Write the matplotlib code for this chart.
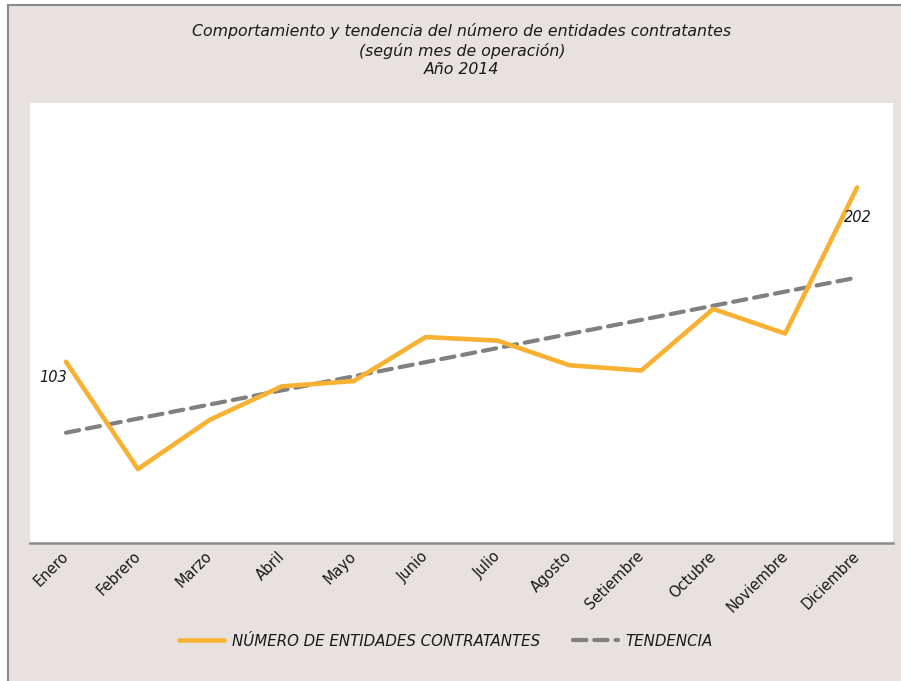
import matplotlib
matplotlib.use("Agg")
import matplotlib.pyplot as plt
import matplotlib.transforms as mtransforms
import numpy as np
from matplotlib.patches import Rectangle

months = ["Enero", "Febrero", "Marzo", "Abril", "Mayo", "Junio", "Julio",
          "Agosto", "Setiembre", "Octubre", "Noviembre", "Diciembre"]
entidades = [103, 42, 70, 89, 92, 117, 115, 101, 98, 133, 119, 202]
title_lines = ["Comportamiento y tendencia del número de entidades contratantes",
               "(según mes de operación)", "Año 2014"]
series_label = "NÚMERO DE ENTIDADES CONTRATANTES"
trend_label = "TENDENCIA"

FONT = ["DejaVu Sans"]
BG = "#E7E2DF"
ORANGE = "#F9B133"
GRAY = "#808080"
TXT = "#1a1a1a"

fig = plt.figure(figsize=(9.01, 6.81), dpi=100)
fig.patch.set_facecolor("white")
# outer chart box
fig.patches.append(Rectangle((8/901, -0.1), 1.2, 1 - 5/681 + 0.1, transform=fig.transFigure,
                             facecolor=BG, edgecolor="#8a8a8a", linewidth=1.5, zorder=-10))

ax = fig.add_axes([30/901, 1 - 543/681, (893-30)/901, (543-103)/681])
ax.set_zorder(1)
ax.set_facecolor("white")
x = np.arange(1, len(months) + 1)
y = np.array(entidades, dtype=float)
coef = np.polyfit(x, y, 1)
trend = np.polyval(coef, x)

ax.plot(x, y, color=ORANGE, lw=3.3, solid_capstyle="round", solid_joinstyle="round",
        label=series_label, zorder=3)
ax.plot(x, trend, color=GRAY, lw=3.0, dashes=(3.2, 1.9), dash_capstyle="round",
        label=trend_label, zorder=2)

ax.set_xlim(0.5, 12.5)
ax.set_ylim(0, 250)
ax.set_yticks([])
ax.set_xticks(x)
ax.set_xticklabels(months, rotation=45, ha="right", rotation_mode="anchor",
                   family=FONT, fontsize=10.5, color=TXT)
ax.tick_params(axis="x", length=0, pad=4)
offset = mtransforms.ScaledTranslation(-5/100, 0, fig.dpi_scale_trans)
for lbl in ax.get_xticklabels():
    lbl.set_transform(lbl.get_transform() + offset)
for s in ["top", "left", "right"]:
    ax.spines[s].set_visible(False)
ax.spines["bottom"].set_color("#8a8a8a")
ax.spines["bottom"].set_linewidth(1.8)

ax.annotate(str(entidades[0]), (x[0], y[0]), xytext=(-9.5, -11.5), textcoords="offset points",
            ha="center", va="center", fontsize=10.5, style="italic", family=FONT, color=TXT)
ax.annotate(str(entidades[-1]), (x[-1], y[-1]), xytext=(0.7, -21.6), textcoords="offset points",
            ha="center", va="center", fontsize=10.5, style="italic", family=FONT, color=TXT)

for i, (t, yy) in enumerate(zip(title_lines, [31, 51, 70])):
    fig.text(462/901, 1 - yy/681, t, ha="center", va="center", fontsize=11.3,
             style="italic", family=FONT, color=TXT)

leg = fig.legend(loc="center", bbox_to_anchor=(446/901, 1 - 641/681), ncol=2, frameon=False,
                 prop={"family": FONT, "style": "italic", "size": 10.8},
                 handlelength=3.0, handletextpad=0.5, columnspacing=2.2)
for t in leg.get_texts():
    t.set_color(TXT)

fig.savefig("out.png", dpi=100, facecolor=fig.get_facecolor())
